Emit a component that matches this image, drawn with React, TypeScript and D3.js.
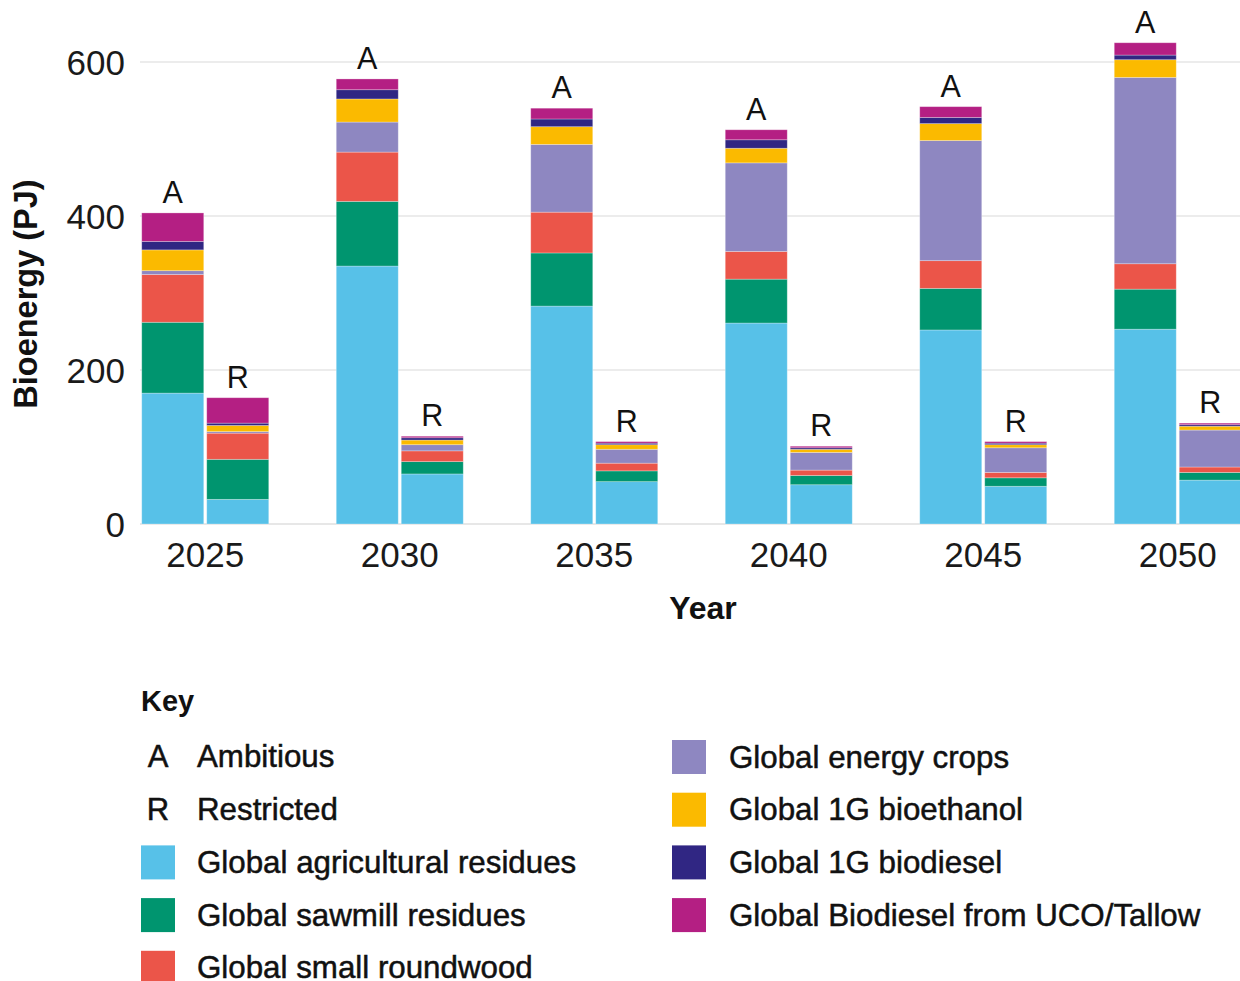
import React from "react";
import * as d3 from "d3";

const years = ["2025", "2030", "2035", "2040", "2045", "2050"];
const scenarios = ["A", "R"];
const scenarioNames = ["Ambitious", "Restricted"];
const yTicks = [0, 200, 400, 600];

const seriesNames = [
  "Global agricultural residues",
  "Global sawmill residues",
  "Global small roundwood",
  "Global energy crops",
  "Global 1G bioethanol",
  "Global 1G biodiesel",
  "Global Biodiesel from UCO/Tallow",
];
const seriesColors = ["#57C1E8", "#00956F", "#EB5549", "#8E87C1", "#FBBA00", "#302683", "#B41F83"];

// Ambitious (A) values, PJ
const agResiduesA = [170, 335, 283, 261, 252, 253];
const sawmillA = [92, 84, 69, 57, 54, 52];
const roundwoodA = [62, 64, 53, 36, 36, 33];
const energyCropsA = [5, 39, 88, 115, 156, 242];
const bioethanolA = [27, 30, 23, 19, 22, 23];
const biodieselA = [11, 12, 10, 11, 8, 6];
const ucoTallowA = [37, 14, 14, 13, 14, 16];

// Restricted (R) values, PJ
const agResiduesR = [32, 65, 55, 51, 49, 57];
const sawmillR = [52, 16, 14, 12, 11, 10];
const roundwoodR = [34, 14, 10, 7, 7, 7];
const energyCropsR = [2, 8, 18, 23, 32, 48];
const bioethanolR = [8, 6, 6, 4, 4, 5];
const biodieselR = [3, 3, 2, 2, 2, 2];
const ucoTallowR = [33, 2, 2, 2, 2, 2];

const seriesA = [agResiduesA, sawmillA, roundwoodA, energyCropsA, bioethanolA, biodieselA, ucoTallowA];
const seriesR = [agResiduesR, sawmillR, roundwoodR, energyCropsR, bioethanolR, biodieselR, ucoTallowR];

const FONT = "'Liberation Sans', Arial, Helvetica, sans-serif";

export default function App() {
  const W = 1240;
  const H = 981;

  const rows: any[] = [];
  years.forEach((yr, i) => {
    scenarios.forEach((sc) => {
      const src = sc === "A" ? seriesA : seriesR;
      const row: any = { year: yr, scen: sc };
      seriesNames.forEach((name, k) => {
        row[name] = src[k][i];
      });
      rows.push(row);
    });
  });

  const stacked = d3.stack<any>().keys(seriesNames)(rows);

  const x0 = d3.scaleBand<string>().domain(years).range([108, 1275]).paddingInner(0.347).paddingOuter(0.1735);
  const x1 = d3.scaleBand<string>().domain(scenarios).range([0, x0.bandwidth()]).paddingInner(0.046);
  const y = d3.scaleLinear().domain([0, 600]).range([524, 62]);

  const totals = rows.map((r) => d3.sum(seriesNames, (n) => r[n]));

  const legendRowY = (i: number) => 740 + i * 52.7;

  return (
    <svg
      width={W}
      height={H}
      style={{ position: "absolute", left: 0, top: 0, display: "block", background: "#fff" }}
      fontFamily={FONT}
    >
      {/* gridlines */}
      {yTicks.map((t) => (
        <line key={t} x1={140} x2={W} y1={y(t)} y2={y(t)} stroke={t === 0 ? "#d0d0d0" : "#dadada"} strokeWidth={1.2} />
      ))}
      {/* y tick labels */}
      {yTicks.map((t) => (
        <text key={"yl" + t} x={125} y={y(t)} dy="0.36em" textAnchor="end" fontSize={35} fill="#1a1a1a" fontWeight={300}>
          {t}
        </text>
      ))}
      {/* bars */}
      {stacked.map((layer, k) => (
        <g key={layer.key} fill={seriesColors[k]}>
          {layer.map((d: any, j: number) => {
            const r = rows[j];
            const bx = (x0(r.year) as number) + (x1(r.scen) as number);
            return (
              <rect
                key={j}
                x={bx}
                y={y(d[1])}
                width={x1.bandwidth()}
                height={Math.max(0, y(d[0]) - y(d[1]))}
                stroke="#ffffff"
                strokeOpacity={0.35}
                strokeWidth={0.8}
              />
            );
          })}
        </g>
      ))}
      {/* A / R labels */}
      {rows.map((r, j) => {
        const bx = (x0(r.year) as number) + (x1(r.scen) as number) + x1.bandwidth() / 2;
        return (
          <text key={"lab" + j} x={bx} y={y(totals[j]) - 10} textAnchor="middle" fontSize={30.5} fill="#111">
            {r.scen}
          </text>
        );
      })}
      {/* x tick labels */}
      {years.map((yr) => (
        <text key={"xl" + yr} x={(x0(yr) as number) + x0.bandwidth() / 2} y={567} textAnchor="middle" fontSize={35} fill="#1a1a1a" fontWeight={300}>
          {yr}
        </text>
      ))}
      {/* axis titles */}
      <text x={703} y={619} textAnchor="middle" fontSize={32} fontWeight="bold" fill="#111">
        Year
      </text>
      <text transform="translate(37,294) rotate(-90)" textAnchor="middle" fontSize={32.5} fontWeight="bold" fill="#111">
        Bioenergy (PJ)
      </text>

      {/* Legend */}
      <text x={141} y={711} fontSize={29} fontWeight="bold" fill="#111">
        Key
      </text>
      {scenarios.map((sc, i) => (
        <g key={"sl" + sc}>
          <text x={158} y={legendRowY(i) + 27} textAnchor="middle" fontSize={31} fill="#111" stroke="#111" strokeWidth={0.5}>
            {sc}
          </text>
          <text x={197} y={legendRowY(i) + 27} fontSize={31.3} fill="#111" stroke="#111" strokeWidth={0.5}>
            {scenarioNames[i]}
          </text>
        </g>
      ))}
      {seriesNames.map((name, k) => {
        const col = k < 3 ? 0 : 1;
        const row = k < 3 ? k + 2 : k - 3;
        const sx = col === 0 ? 141 : 672;
        const tx = col === 0 ? 197 : 729;
        const ry = legendRowY(row);
        return (
          <g key={"leg" + name}>
            <rect x={sx} y={ry} width={34} height={34} fill={seriesColors[k]} />
            <text x={tx} y={ry + 27.5} fontSize={31.3} fill="#111" stroke="#111" strokeWidth={0.5}>
              {name}
            </text>
          </g>
        );
      })}
    </svg>
  );
}
